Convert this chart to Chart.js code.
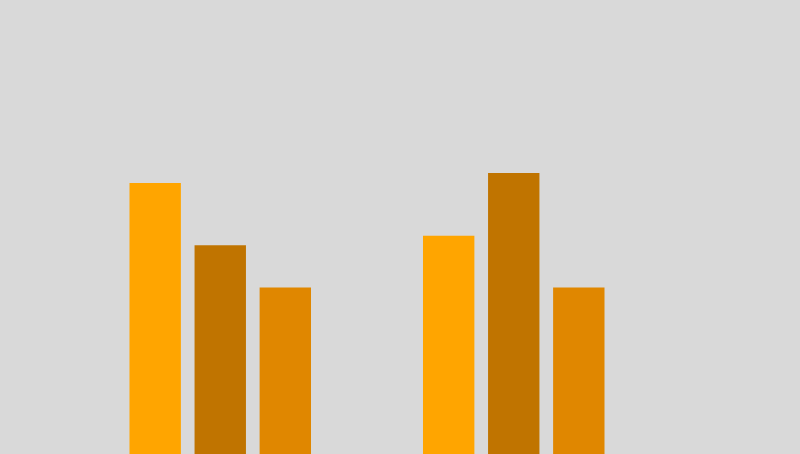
<!DOCTYPE html>
<html>
<head>
<meta charset="utf-8">
<script src="https://cdn.jsdelivr.net/npm/chart.js@4"></script>
<style>
html,body{margin:0;padding:0;background:#d9d9d9;overflow:hidden;}
canvas{display:block;}
</style>
</head>
<body>
<canvas id="c" width="800" height="454"></canvas>
<script>
const categories = ["A", "B"];
const series1 = [59.7, 48.1];
const series2 = [46.0, 61.9];
const series3 = [36.7, 36.7];
const colors = ["#FFA500", "#C07400", "#E08700"];

const bgPlugin = {
  id: 'bg',
  beforeDraw(chart) {
    const ctx = chart.ctx;
    ctx.save();
    ctx.fillStyle = '#d9d9d9';
    ctx.fillRect(0, 0, chart.width, chart.height);
    ctx.restore();
  }
};

new Chart(document.getElementById('c'), {
  type: 'bar',
  data: {
    labels: categories,
    datasets: [
      { data: series1, backgroundColor: colors[0] },
      { data: series2, backgroundColor: colors[1] },
      { data: series3, backgroundColor: colors[2] }
    ]
  },
  options: {
    responsive: false,
    animation: false,
    devicePixelRatio: 1,
    layout: { padding: { left: 73.5, right: 139.5, top: 0, bottom: 0 } },
    datasets: { bar: { categoryPercentage: 0.665, barPercentage: 0.79 } },
    plugins: { legend: { display: false }, tooltip: { enabled: false } },
    scales: {
      x: { display: false },
      y: { display: false, min: 0, max: 100 }
    }
  },
  plugins: [bgPlugin]
});
</script>
</body>
</html>
